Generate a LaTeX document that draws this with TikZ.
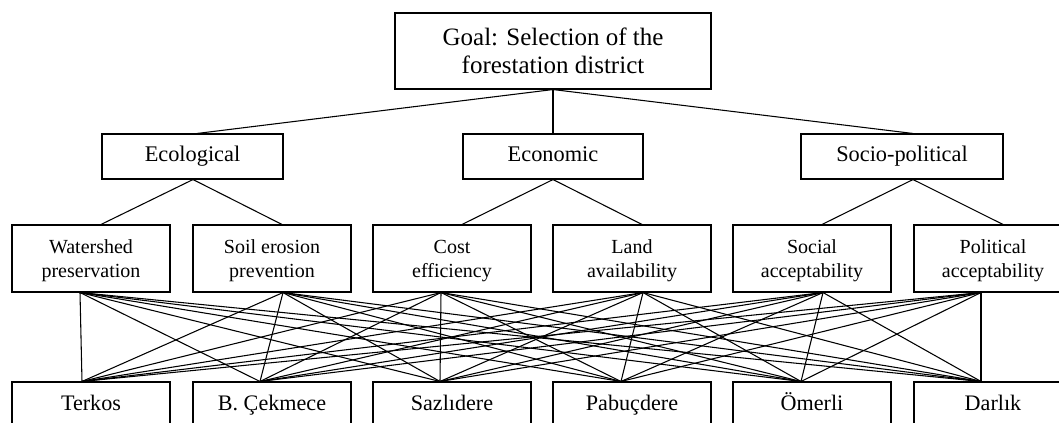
\documentclass[tikz,border=0pt]{standalone}
\usepackage{fontspec}
\setmainfont{Liberation Serif}
\usepackage{tikz}
\usetikzlibrary{calc}

\tikzset{
  box/.style={draw, line width=0.8pt, inner sep=0pt, align=center},
  goalbox/.style={box, minimum width=237pt, minimum height=57pt,
    font=\fontsize{18.75}{21}\selectfont},
  critbox/.style={box, minimum height=33.75pt, text height=0.9em, text depth=0.14em,
    font=\fontsize{16.75}{20}\selectfont},
  subbox/.style={box, minimum width=118.5pt, minimum height=50.25pt,
    text height=29pt, text depth=0pt,
    font=\fontsize{15}{18.5}\selectfont},
  altbox/.style={box, minimum width=118.5pt, minimum height=34.5pt, text height=0.9em, text depth=0.14em,
    font=\fontsize{16.6}{20}\selectfont},
  link/.style={line width=0.8pt}
}

\begin{document}
\begin{tikzpicture}[x=0.75pt, y=-0.75pt]
  \path[use as bounding box, clip] (0,0) rectangle (1059,422);

  % goal
  \node[goalbox] (goal) at (553,51) {Goal: Selection of the\\forestation district};

  % criteria
  \node[critbox, minimum width=135.75pt] (eco) at (192.5,156.5) {Ecological};
  \node[critbox, minimum width=135pt] (econ) at (553,156.5) {Economic};
  \node[critbox, minimum width=151.5pt] (socio) at (902,156.5) {Socio-political};

  % sub-criteria
  \node[subbox] (w)  at (91,258.5)  {Watershed\\preservation};
  \node[subbox] (s)  at (272,258.5) {Soil erosion\\prevention};
  \node[subbox] (c)  at (452,258.5) {Cost\\efficiency};
  \node[subbox] (l)  at (632,258.5) {Land\\availability};
  \node[subbox] (so) at (812,258.5) {Social\\acceptability};
  \node[subbox] (po) at (993,258.5) {Political\\acceptability};

  % alternatives
  \node[altbox] (terkos) at (91,405)  {Terkos};
  \node[altbox] (cekmece) at (272,405) {B. Çekmece};
  \node[altbox] (sazli)  at (452,405) {Sazlıdere};
  \node[altbox] (pabuc)  at (632,405) {Pabuçdere};
  \node[altbox] (omerli) at (812,405) {Ömerli};
  \node[altbox] (darlik) at (993,405) {Darlık};

  % attachment points
  \coordinate (eco-in)   at ($(eco.north)+(4.5,0)$);
  \coordinate (eco-out)  at ($(eco.south)+(0.5,0)$);
  \coordinate (socio-in) at ($(socio.north)+(11,0)$);
  \coordinate (socio-out) at ($(socio.south)+(11,0)$);
  \foreach \n/\o in {w/-11, s/11, c/-11, l/11, so/11, po/-12} {
    \coordinate (\n-in)  at ($(\n.north)+(10,0)$);
    \coordinate (\n-out) at ($(\n.south)+(\o,0)$);
  }
  \foreach \n/\o in {terkos/-9, cekmece/-12, sazli/-12, pabuc/-11, omerli/-11, darlik/-12}
    \coordinate (\n-in) at ($(\n.north)+(\o,0)$);

  % hierarchy links
  \draw[link] (goal.south) -- (eco-in);
  \draw[link] (goal.south) -- (econ.north);
  \draw[link] (goal.south) -- (socio-in);
  \draw[link] (w-in) -- (eco-out) -- (s-in);
  \draw[link] (c-in) -- (econ.south) -- (l-in);
  \draw[link] (so-in) -- (socio-out) -- (po-in);

  % every sub-criterion to every alternative
  \foreach \a in {w, s, c, l, so, po}
    \foreach \b in {terkos, cekmece, sazli, pabuc, omerli, darlik}
      \draw[link] (\a-out) -- (\b-in);
\end{tikzpicture}
\end{document}
